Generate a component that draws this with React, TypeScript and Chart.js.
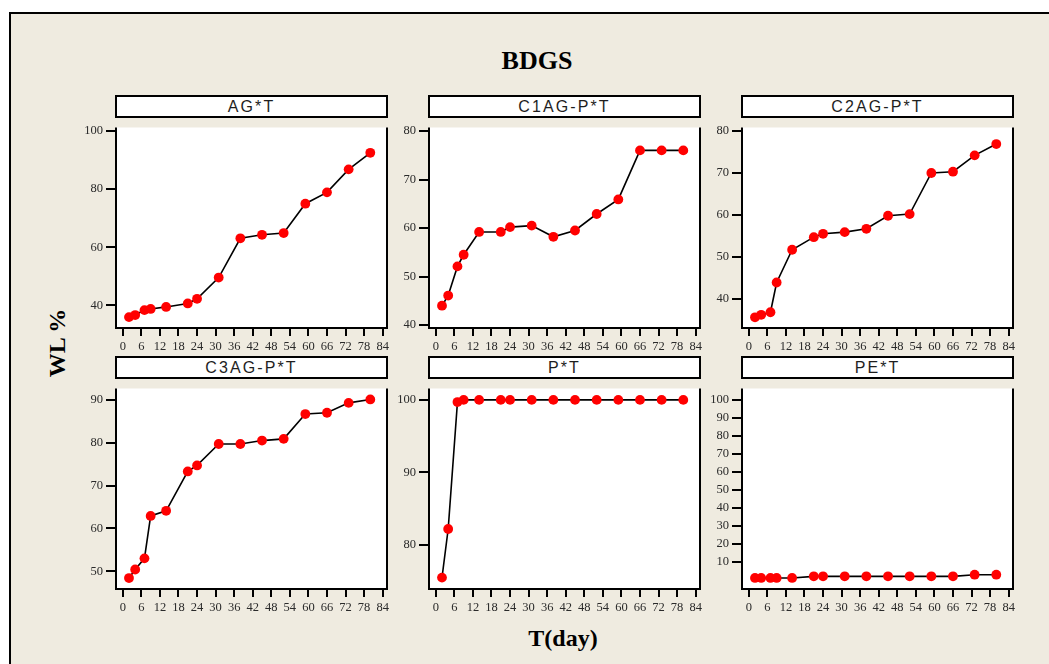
import React, { useEffect, useRef } from "react";
import { Chart, registerables } from "chart.js";

Chart.register(...registerables);

// ---------- data ----------
const days = [2, 4, 7, 9, 14, 21, 24, 31, 38, 45, 52, 59, 66, 73, 80];
const xTicks = [0, 6, 12, 18, 24, 30, 36, 42, 48, 54, 60, 66, 72, 78, 84];

const panelTitles = ["AG*T", "C1AG-P*T", "C2AG-P*T", "C3AG-P*T", "P*T", "PE*T"];

const agT = [36.0, 36.7, 38.4, 38.8, 39.5, 40.7, 42.3, 49.6, 63.1, 64.3, 64.9, 75.0, 78.9, 86.8, 92.5];
const c1agPT = [44.0, 46.1, 52.1, 54.5, 59.2, 59.2, 60.2, 60.5, 58.2, 59.5, 62.9, 65.9, 76.0, 76.0, 76.0];
const c2agPT = [35.6, 36.2, 36.8, 43.9, 51.7, 54.7, 55.5, 55.9, 56.7, 59.8, 60.2, 70.0, 70.3, 74.2, 76.9];
const c3agPT = [48.4, 50.4, 53.0, 62.9, 64.1, 73.3, 74.7, 79.7, 79.7, 80.5, 80.9, 86.7, 87.0, 89.3, 90.1];
const pT = [75.5, 82.2, 99.7, 100, 100, 100, 100, 100, 100, 100, 100, 100, 100, 100, 100];
const peT = [1.2, 1.2, 1.2, 1.2, 1.2, 2.1, 2.1, 2.1, 2.1, 2.1, 2.1, 2.1, 2.1, 3.0, 3.0];

const yTicksAG = [40, 60, 80, 100];
const yTicksC1 = [40, 50, 60, 70, 80];
const yTicksC2 = [40, 50, 60, 70, 80];
const yTicksC3 = [50, 60, 70, 80, 90];
const yTicksP = [80, 90, 100];
const yTicksPE = [10, 20, 30, 40, 50, 60, 70, 80, 90, 100];

const seriesList = [agT, c1agPT, c2agPT, c3agPT, pT, peT];
const yTickList = [yTicksAG, yTicksC1, yTicksC2, yTicksC3, yTicksP, yTicksPE];

// ---------- layout / style ----------
const yRanges: [number, number][] = [
  [32.25, 101.2],
  [39.41, 80.72],
  [33.05, 80.84],
  [45.85, 92.66],
  [73.93, 101.57],
  [-4.93, 106.3],
];
const X_MIN = -2.2;
const X_MAX = 85.4;

const colLeft = [116, 429, 742];
const plotW = 271;
const rows = [
  { headerTop: 95, headerBottom: 117, plotBottom: 328 },
  { headerTop: 356, headerBottom: 378, plotBottom: 589 },
];
const Y_AXIS_W = 50;
const X_AXIS_H = 30;
const RIGHT_PAD = 10;

const BEIGE = "#efebe0";
const SERIF = "'Liberation Serif', 'Times New Roman', serif";
const SANS = "'Liberation Sans', Arial, sans-serif";

const framePlugin = {
  id: "frame",
  beforeDraw(chart: any) {
    const { ctx, chartArea: a } = chart;
    ctx.save();
    ctx.fillStyle = "#ffffff";
    ctx.fillRect(a.left, a.top, a.right - a.left, a.bottom - a.top);
    ctx.restore();
  },
  afterDraw(chart: any) {
    const { ctx, chartArea: a } = chart;
    ctx.save();
    ctx.strokeStyle = "#000";
    ctx.lineWidth = 2;
    ctx.beginPath();
    ctx.moveTo(a.left, a.top);
    ctx.lineTo(a.left, a.bottom);
    ctx.lineTo(a.right, a.bottom);
    ctx.lineTo(a.right, a.top);
    ctx.stroke();
    ctx.restore();
  },
};

function Panel({ idx }: { idx: number }) {
  const ref = useRef<HTMLCanvasElement | null>(null);
  const col = idx % 3;
  const row = rows[Math.floor(idx / 3)];
  const left = colLeft[col];
  const canvasLeft = left - Y_AXIS_W;
  const canvasTop = row.headerBottom;
  const cw = Y_AXIS_W + plotW + RIGHT_PAD;
  const ch = row.plotBottom - row.headerBottom + X_AXIS_H;

  useEffect(() => {
    if (!ref.current) return;
    const values = seriesList[idx];
    const yTicks = yTickList[idx];
    const [ymin, ymax] = yRanges[idx];
    const tickFont = { family: SERIF, size: 12.5 };
    const chart = new Chart(ref.current, {
      type: "line",
      data: {
        datasets: [
          {
            data: days.map((d, i) => ({ x: d, y: values[i] })),
            borderColor: "#000",
            borderWidth: 1.6,
            pointRadius: 4.9,
            pointHoverRadius: 4.9,
            pointBackgroundColor: "#ff0000",
            pointBorderColor: "#ff0000",
            pointBorderWidth: 0,
            tension: 0,
            clip: false as any,
          },
        ],
      },
      options: {
        animation: false,
        responsive: false,
        maintainAspectRatio: false,
        events: [],
        layout: { padding: { left: 0, right: RIGHT_PAD, top: 0, bottom: 0 } },
        plugins: { legend: { display: false }, tooltip: { enabled: false }, title: { display: false } },
        scales: {
          x: {
            type: "linear",
            min: X_MIN,
            max: X_MAX,
            afterBuildTicks: (s: any) => {
              s.ticks = xTicks.map((v) => ({ value: v }));
            },
            afterFit: (s: any) => {
              s.height = X_AXIS_H;
            },
            grid: { drawOnChartArea: false, drawTicks: true, tickLength: 8, lineWidth: 2, color: "#000" },
            border: { display: false },
            ticks: { font: tickFont, color: "#2a2a2a", padding: 3, maxRotation: 0, autoSkip: false },
          },
          y: {
            type: "linear",
            min: ymin,
            max: ymax,
            afterBuildTicks: (s: any) => {
              s.ticks = yTicks.map((v) => ({ value: v }));
            },
            afterFit: (s: any) => {
              s.width = Y_AXIS_W;
            },
            grid: { drawOnChartArea: false, drawTicks: true, tickLength: 10, lineWidth: 2, color: "#000" },
            border: { display: false },
            ticks: { font: tickFont, color: "#2a2a2a", padding: 3, autoSkip: false },
          },
        },
      } as any,
      plugins: [framePlugin],
    });
    return () => chart.destroy();
  }, [idx]);

  return (
    <>
      <div
        style={{
          position: "absolute",
          left: left - 1,
          top: row.headerTop,
          width: plotW + 2,
          height: row.headerBottom + 1 - row.headerTop,
          boxSizing: "border-box",
          border: "2px solid #000",
          background: "#fff",
          fontFamily: SANS,
          fontSize: 16,
          letterSpacing: "2.1px",
          color: "#1e1e1e",
          textAlign: "center",
          lineHeight: `${row.headerBottom + 1 - row.headerTop - 4}px`,
        }}
      >
        {panelTitles[idx]}
      </div>
      <canvas
        ref={ref}
        width={cw}
        height={ch}
        style={{ position: "absolute", left: canvasLeft, top: canvasTop, width: cw, height: ch }}
      />
    </>
  );
}

export default function App() {
  return (
    <div
      style={{
        position: "fixed",
        left: 0,
        top: 0,
        width: 1049,
        height: 664,
        background: "#fff",
        overflow: "hidden",
      }}
    >
      <div
        style={{
          position: "absolute",
          left: 9,
          top: 12,
          width: 1060,
          height: 680,
          background: BEIGE,
          borderLeft: "2px solid #000",
          borderTop: "2px solid #000",
        }}
      />
      <div
        style={{
          position: "absolute",
          left: 437,
          top: 46,
          width: 200,
          height: 30,
          lineHeight: "30px",
          textAlign: "center",
          fontFamily: SERIF,
          fontWeight: "bold",
          fontSize: 26,
          color: "#000",
        }}
      >
        BDGS
      </div>
      <div
        style={{
          position: "absolute",
          left: 57 - 60,
          top: 343 - 15,
          width: 120,
          height: 30,
          lineHeight: "30px",
          textAlign: "center",
          fontFamily: SERIF,
          fontWeight: "bold",
          fontSize: 24,
          color: "#000",
          transform: "rotate(-90deg)",
        }}
      >
        WL %
      </div>
      <div
        style={{
          position: "absolute",
          left: 463,
          top: 623,
          width: 200,
          height: 30,
          lineHeight: "30px",
          textAlign: "center",
          fontFamily: SERIF,
          fontWeight: "bold",
          fontSize: 24,
          color: "#000",
        }}
      >
        T(day)
      </div>
      {[0, 1, 2, 3, 4, 5].map((i) => (
        <Panel key={i} idx={i} />
      ))}
    </div>
  );
}
